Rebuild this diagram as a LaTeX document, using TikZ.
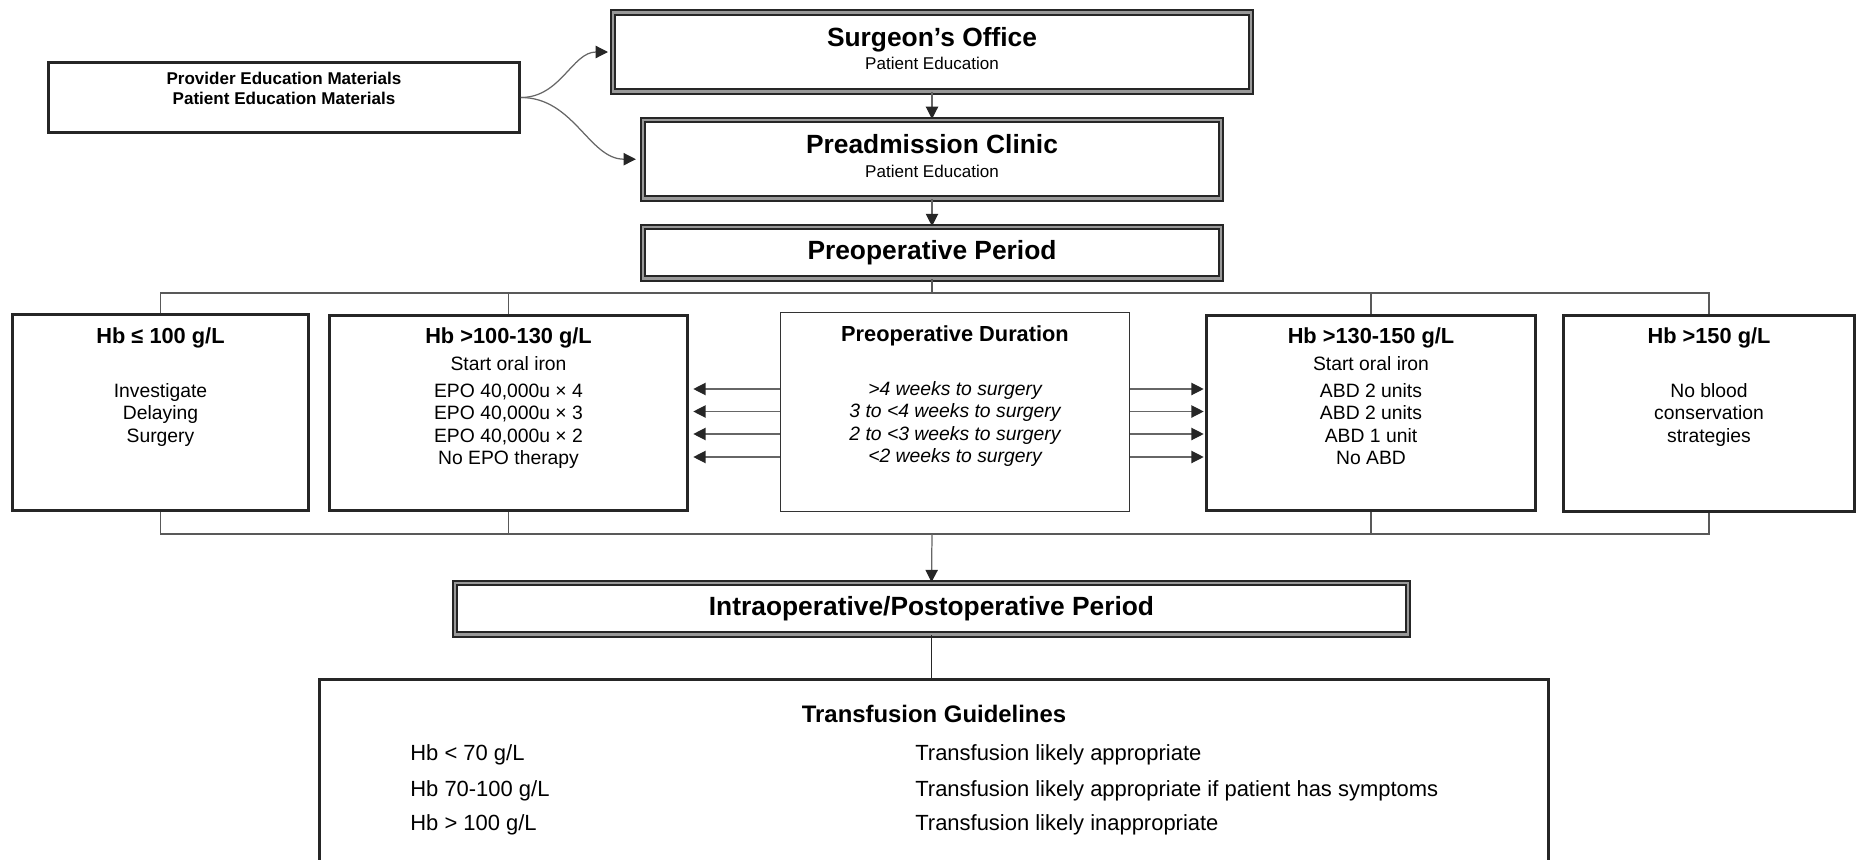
\documentclass[tikz,border=0pt]{standalone}
\usepackage{fontspec}
\setmainfont{Liberation Sans}
\usetikzlibrary{arrows.meta,positioning}

\newcommand{\stagefont}{\fontsize{15}{17}\bfseries\selectfont}
\newcommand{\notefont}{\fontsize{9.7}{11.4}\selectfont}
\newcommand{\matfont}{\fontsize{9.7}{11.4}\bfseries\selectfont}
\newcommand{\hbfont}{\fontsize{12.4}{14.5}\bfseries\selectfont}
\newcommand{\bodyfont}{\fontsize{11}{12.8}\selectfont}
\newcommand{\guidefont}{\fontsize{13.6}{16}\bfseries\selectfont}
\newcommand{\rowfont}{\fontsize{12.5}{15}\selectfont}
\newcommand{\lift}{\rule[-4pt]{0pt}{4pt}}

\begin{document}
\begin{tikzpicture}
		[x=0.02cm,y=-0.02cm,
		boxsize/.style 2 args={minimum width=#1*0.02cm,minimum height=#2*0.02cm},
		stage/.style={draw=black!85,line width=1.1pt,double=black!40,double distance=1.4pt,inner sep=0pt,align=center},
		hbbox/.style={draw=black!85,line width=1.6pt,inner sep=0pt},
		durbox/.style={draw=black!80,line width=0.7pt,inner sep=0pt},
		boxtext/.style={anchor=north,inner sep=0pt,align=center,font=\bodyfont},
		rowtext/.style={anchor=base west,inner sep=0pt,font=\rowfont},
		bus/.style={draw=black!65,line width=1pt},
		arr/.style={draw=black!60,line width=0.7pt,-{Triangle[length=7pt,width=7pt,color=black!85]}}
		]
		
		\useasboundingbox (0,0) rectangle (1860,859);
		\clip (0,0) rectangle (1860,859);
		
		\node[hbbox,boxsize={471}{70}] (mat) at (284,97.5) {};
		\node[font=\matfont,align=center,anchor=north,inner sep=0pt] (matText) at (284,71.5) {Provider Education Materials\\Patient Education Materials};
		
		\node[stage,boxsize={638}{79}] (office) at (932,52) {{\stagefont Surgeon’s Office}\\[1pt]{\notefont Patient Education}\lift};
		\node[stage,boxsize={578}{78.5}] (clinic) at (932,159.2) {{\stagefont Preadmission Clinic}\\[1.5pt]{\notefont Patient Education}\lift};
		\node[stage,boxsize={578}{51.3}] (preop) at (932,252.8) {\stagefont Preoperative Period};
		
		\node[hbbox,boxsize={296}{196}] (hbLow) at (160.5,412.5) {};
		\node[hbbox,boxsize={358}{195}] (hbMid) at (508.5,413) {};
		\node[durbox,boxsize={349}{199}] (dur) at (955,412) {};
		\node[hbbox,boxsize={329}{195}] (hbHigh) at (1371,413) {};
		\node[hbbox,boxsize={291}{196}] (hbTop) at (1709,413.5) {};
		
		\node[boxtext] (hbLowText) at (160.5,327) {{\hbfont Hb ≤ 100 g/L}\\[2.6pt]~\\[2.6pt]Investigate\\Delaying\\Surgery};
		\node[boxtext] (hbMidText) at (508.5,327) {{\hbfont Hb >100-130 g/L}\\[2.6pt]Start oral iron\\[2.6pt]EPO 40,000u × 4\\EPO 40,000u × 3\\EPO 40,000u × 2\\No EPO therapy};
		\node[boxtext] (durText) at (955,325) {{\hbfont Preoperative Duration}\\[2.6pt]~\\[2.6pt]\itshape >4 weeks to surgery\\\itshape 3 to <4 weeks to surgery\\\itshape 2 to <3 weeks to surgery\\\itshape <2 weeks to surgery};
		\node[boxtext] (hbHighText) at (1371,327) {{\hbfont Hb >130-150 g/L}\\[2.6pt]Start oral iron\\[2.6pt]ABD 2 units\\ABD 2 units\\ABD 1 unit\\No ABD};
		\node[boxtext] (hbTopText) at (1709,327) {{\hbfont Hb >150 g/L}\\[2.6pt]~\\[2.6pt]No blood\\conservation\\strategies};
		
		\node[stage,boxsize={952.6}{51.3}] (intra) at (931.5,608.8) {\stagefont Intraoperative/Postoperative Period};
		
		\node[hbbox,boxsize={1229}{260}] (guide) at (934,809.5) {};
		\node[font=\guidefont] (guideTitle) at (934,714) {Transfusion Guidelines};
		\node[rowtext] (lowHb) at (410,760) {Hb < 70 g/L};
		\node[rowtext] (midHb) at (410,796) {Hb 70-100 g/L};
		\node[rowtext] (highHb) at (410,830) {Hb > 100 g/L};
		\node[rowtext] (lowAct) at (915,760) {Transfusion likely appropriate};
		\node[rowtext] (midAct) at (915,796) {Transfusion likely appropriate if patient has symptoms};
		\node[rowtext] (highAct) at (915,830) {Transfusion likely inappropriate};
		
		\coordinate (busTop) at (932,293);
		\coordinate (busLow) at (932,534);
		
		\draw[arr,shorten >=2.3pt] (mat.east) to[out=0,in=180] (office.west);
		\draw[arr,shorten >=3.5pt] (mat.east) to[out=0,in=180] (clinic.west);
		\draw[arr] (office.south) -- (clinic.north);
		\draw[arr] (clinic.south) -- (preop.north);
		
		\path[bus]
		(preop.south) -- (busTop)
		(hbLow.north) |- (busTop) -| (hbTop.north)
		(hbMid.north) -- (hbMid.north |- busTop)
		(hbHigh.north) -- (hbHigh.north |- busTop)
		(hbLow.south) |- (busLow) -| (hbTop.south)
		(hbMid.south) -- (hbMid.south |- busLow)
		(hbHigh.south) -- (hbHigh.south |- busLow);
		
		\foreach \ry in {389,411.5,434,457}
		{
			\draw[arr,shorten >=2.5pt] (dur.west |- 0,\ry) -- (hbMid.east |- 0,\ry);
			\draw[arr,shorten >=0.8pt] (dur.east |- 0,\ry) -- (hbHigh.west |- 0,\ry);
		}
		
		\draw[arr] (busLow) -- (intra.north);
		\draw[bus,black!85,line width=0.8pt] (intra.south) -- (intra.south |- guide.north);
		
\end{tikzpicture}
\end{document}
